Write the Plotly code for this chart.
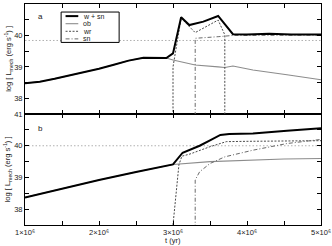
import plotly.graph_objects as go

# ---------------- data (t in units of 1e6 yr, log L in erg/s) ----------------
# panel a
t_a_wsn = [1.0, 1.2, 1.4, 1.6, 1.8, 2.0, 2.2, 2.4, 2.6, 2.8, 2.91, 3.0, 3.11, 3.22, 3.41, 3.61, 3.81, 4.0, 4.3, 4.6, 5.0]
a_wsn   = [38.48, 38.53, 38.62, 38.72, 38.82, 38.94, 39.07, 39.20, 39.29, 39.29, 39.28, 39.43, 40.58, 40.33, 40.44, 40.62, 40.04, 40.03, 40.05, 40.03, 40.03]
t_a_ob  = [1.0, 1.2, 1.4, 1.6, 1.8, 2.0, 2.2, 2.4, 2.6, 2.8, 2.91, 3.0, 3.3, 3.61, 3.7, 3.81, 4.08, 4.54, 5.0]
a_ob    = [38.48, 38.53, 38.62, 38.72, 38.82, 38.94, 39.07, 39.20, 39.29, 39.29, 39.28, 39.22, 39.06, 39.00, 38.98, 39.03, 38.90, 38.75, 38.59]
t_a_wr  = [3.0, 3.0, 3.11, 3.3, 3.61, 3.7, 3.7]
a_wr    = [30.0, 39.0, 40.55, 40.09, 40.49, 40.02, 30.0]
t_a_sn  = [3.3, 3.3, 3.61, 3.81, 5.0]
a_sn    = [30.0, 39.91, 39.96, 40.0, 40.01]
a_ref   = 39.84

# panel b
t_b_wsn = [1.0, 1.5, 2.0, 2.5, 3.0, 3.13, 3.36, 3.5, 3.64, 3.76, 4.08, 4.54, 5.0]
b_wsn   = [38.37, 38.65, 38.92, 39.17, 39.41, 39.78, 40.0, 40.17, 40.34, 40.37, 40.39, 40.47, 40.55]
t_b_ob  = [1.0, 1.5, 2.0, 2.5, 3.0, 3.5, 4.0, 4.5, 5.0]
b_ob    = [38.37, 38.65, 38.92, 39.17, 39.41, 39.50, 39.55, 39.58, 39.60]
t_b_wr  = [3.0, 3.08, 3.12, 3.23, 3.5, 3.72, 4.0, 4.5, 5.0]
b_wr    = [37.5, 39.4, 39.67, 39.74, 39.97, 40.13, 40.14, 40.15, 40.16]
t_b_sn  = [3.3, 3.3, 3.36, 3.5, 3.7, 4.08, 4.54, 5.0]
b_sn    = [30.0, 38.92, 39.18, 39.44, 39.65, 39.86, 40.07, 40.20]
b_ref   = 40.0

x_ticks = [1.0, 1.5, 2.0, 2.5, 3.0, 3.5, 4.0, 4.5, 5.0]
x_labels = ["1×10⁶", "", "2×10⁶", "", "3×10⁶", "", "4×10⁶", "", "5×10⁶"]
y_ticks = [37.5, 38, 38.5, 39, 39.5, 40, 40.5, 41]
y_labels = ["", "38", "", "39", "", "40", "", "41"]

legend_names = ["w + sn", "ob", "wr", "sn"]

SC = 1e6
def sx(v):
    return [x * SC for x in v]

FONT = "Liberation Sans, Arial, sans-serif"
C_WSN, C_OB, C_WR, C_SN, C_REF = "black", "#8c8c8c", "#4a4a4a", "#6a6a6a", "#b0b0b0"
D_WR, D_SN, D_REF = "2px,1.5px", "4px,2px,1px,2px", "1.5px,2px"

fig = go.Figure()

def add_panel(xa, ya, ref, tw, w, to, o, twr, wr, tsn, sn):
    fig.add_trace(go.Scatter(x=[1 * SC, 5 * SC], y=[ref, ref], mode="lines",
                             line=dict(color=C_REF, width=1, dash=D_REF),
                             xaxis=xa, yaxis=ya, showlegend=False, hoverinfo="skip"))
    fig.add_trace(go.Scatter(x=sx(to), y=o, mode="lines", line=dict(color=C_OB, width=1.1),
                             xaxis=xa, yaxis=ya, showlegend=False))
    fig.add_trace(go.Scatter(x=sx(twr), y=wr, mode="lines",
                             line=dict(color=C_WR, width=1, dash=D_WR),
                             xaxis=xa, yaxis=ya, showlegend=False))
    fig.add_trace(go.Scatter(x=sx(tsn), y=sn, mode="lines",
                             line=dict(color=C_SN, width=1, dash=D_SN),
                             xaxis=xa, yaxis=ya, showlegend=False))
    fig.add_trace(go.Scatter(x=sx(tw), y=w, mode="lines", line=dict(color=C_WSN, width=2),
                             xaxis=xa, yaxis=ya, showlegend=False))

add_panel("x2", "y2", a_ref, t_a_wsn, a_wsn, t_a_ob, a_ob, t_a_wr, a_wr, t_a_sn, a_sn)
add_panel("x", "y", b_ref, t_b_wsn, b_wsn, t_b_ob, b_ob, t_b_wr, b_wr, t_b_sn, b_sn)

axis_common = dict(showline=True, linecolor="black", linewidth=1, mirror="ticks",
                   ticks="inside", ticklen=4, tickcolor="black", showgrid=False,
                   zeroline=False, automargin=False,
                   tickfont=dict(size=7.5, family=FONT, color="#222"))

fig.update_layout(
    template="none",
    width=332, height=246,
    margin=dict(l=25, r=11, t=4, b=21, autoexpand=False),
    paper_bgcolor="white", plot_bgcolor="white",
    showlegend=False,
    font=dict(family=FONT, size=8, color="#222"),
    xaxis=dict(domain=[0, 1], anchor="y", range=[1 * SC, 5 * SC],
               tickmode="array", tickvals=sx(x_ticks), ticktext=x_labels, **axis_common),
    xaxis2=dict(domain=[0, 1], anchor="y2", range=[1 * SC, 5 * SC], matches="x",
                tickmode="array", tickvals=sx(x_ticks), showticklabels=False, **axis_common),
    yaxis=dict(domain=[0, 0.502], anchor="x", range=[37.5, 41],
               tickmode="array", tickvals=y_ticks, ticktext=y_labels, **axis_common),
    yaxis2=dict(domain=[0.502, 1], anchor="x2", range=[37.5, 41],
                tickmode="array", tickvals=y_ticks, ticktext=y_labels, **axis_common),
)

ytitle = "log [ L<sub>mech</sub> (erg s<sup>-1</sup>) ]"
ann = [
    dict(text=ytitle, xref="paper", yref="y2 domain", x=-0.058, y=0.5, textangle=-90,
         showarrow=False, font=dict(size=7.5), xanchor="center", yanchor="middle"),
    dict(text=ytitle, xref="paper", yref="y domain", x=-0.058, y=0.5, textangle=-90,
         showarrow=False, font=dict(size=7.5), xanchor="center", yanchor="middle"),
    dict(text="t (yr)", xref="paper", yref="paper", x=0.5, y=-0.072, showarrow=False,
         font=dict(size=7.5), xanchor="center", yanchor="middle"),
    dict(text="a", xref="x2 domain", yref="y2 domain", x=0.054, y=0.89, showarrow=False,
         font=dict(size=8), xanchor="center", yanchor="middle"),
    dict(text="b", xref="x domain", yref="y domain", x=0.054, y=0.874, showarrow=False,
         font=dict(size=8), xanchor="center", yanchor="middle"),
]

# manual compact legend in panel a
shapes = [dict(type="rect", xref="x2 domain", yref="y2 domain", x0=0.122, x1=0.318,
               y0=0.651, y1=0.927, line=dict(color="black", width=1),
               fillcolor="white", layer="above")]
leg_styles = [dict(color=C_WSN, width=2), dict(color=C_OB, width=1.1),
              dict(color=C_WR, width=1, dash=D_WR), dict(color=C_SN, width=1, dash=D_SN)]
leg_y = [0.89, 0.821, 0.752, 0.683]
for name, st, yy in zip(legend_names, leg_styles, leg_y):
    shapes.append(dict(type="line", xref="x2 domain", yref="y2 domain", x0=0.137, x1=0.18,
                       y0=yy, y1=yy, line=st, layer="above"))
    ann.append(dict(text=name, xref="x2 domain", yref="y2 domain", x=0.19, y=yy,
                    showarrow=False, font=dict(size=7), xanchor="left", yanchor="middle"))

fig.update_layout(annotations=ann, shapes=shapes)
fig.write_html("out.html", config={"displayModeBar": False},
               post_script="document.body.style.margin='0px';document.body.style.overflow='hidden';")
